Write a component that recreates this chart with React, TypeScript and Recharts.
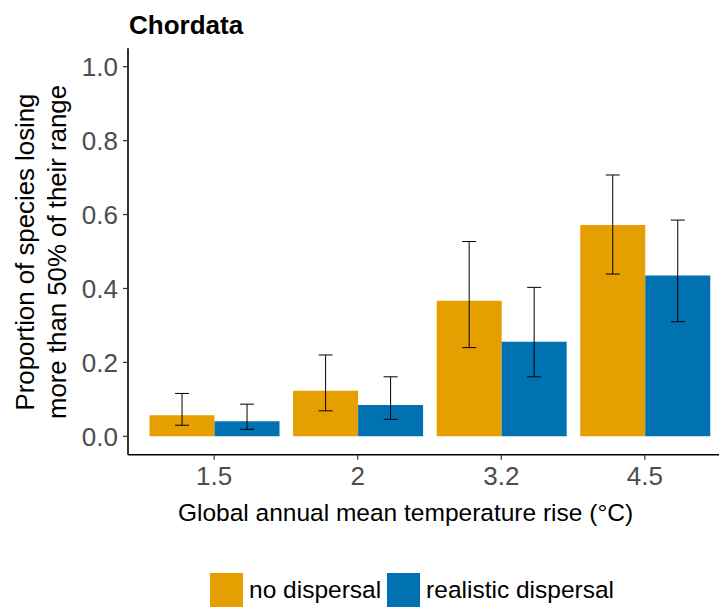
import React from 'react';
import { BarChart, Bar, XAxis, YAxis, ErrorBar, Legend } from 'recharts';

const categories = ['1.5', '2', '3.2', '4.5'];
const noDispersal = [0.057, 0.123, 0.367, 0.572];
const noLow = [0.030, 0.069, 0.240, 0.439];
const noHigh = [0.116, 0.220, 0.527, 0.707];
const realistic = [0.041, 0.085, 0.256, 0.435];
const realLow = [0.019, 0.046, 0.161, 0.310];
const realHigh = [0.087, 0.161, 0.403, 0.585];
const yTicks = [0, 0.2, 0.4, 0.6, 0.8, 1.0];

const ORANGE = '#E69F00';
const BLUE = '#0072B2';
const FONT = "'Liberation Sans', Arial, sans-serif";

const data = categories.map((c, i) => ({
  temp: c,
  no: noDispersal[i],
  noErr: [noDispersal[i] - noLow[i], noHigh[i] - noDispersal[i]],
  real: realistic[i],
  realErr: [realistic[i] - realLow[i], realHigh[i] - realistic[i]],
}));

const YTitle = () => (
  <g>
    <text
      transform="translate(43, 252) rotate(-90)"
      textAnchor="middle"
      fontFamily={FONT}
      fontSize={25.8}
      fill="#000"
    >
      <tspan x={0} dy={-8.7}>Proportion of species losing</tspan>
      <tspan x={0} dy={31.7}>more than 50% of their range</tspan>
    </text>
  </g>
);

const XTitle = () => (
  <text x={405.5} y={521} textAnchor="middle" fontFamily={FONT} fontSize={24.5} fill="#000">
    Global annual mean temperature rise (°C)
  </text>
);

const LegendContent = () => (
  <div
    style={{
      display: 'flex',
      alignItems: 'center',
      paddingLeft: 210,
      height: 34,
      fontFamily: FONT,
      fontSize: 24.5,
      color: '#000',
      whiteSpace: 'nowrap',
    }}
  >
    <span style={{ width: 33, height: 34, background: ORANGE, display: 'inline-block' }} />
    <span style={{ marginLeft: 6, marginRight: 6 }}>no dispersal</span>
    <span style={{ width: 33, height: 34, background: BLUE, display: 'inline-block' }} />
    <span style={{ marginLeft: 6 }}>realistic dispersal</span>
  </div>
);

export default function App() {
  return (
    <div style={{ position: 'absolute', left: 0, top: 0, width: 719, height: 608, overflow: 'hidden', background: '#fff' }}>
      <div
        style={{
          position: 'absolute',
          left: 129,
          top: 10,
          fontFamily: FONT,
          fontWeight: 'bold',
          fontSize: 26,
          color: '#000',
          lineHeight: '30px',
        }}
      >
        Chordata
      </div>
      <BarChart
        width={740}
        height={608}
        data={data}
        margin={{ top: 48.2, right: 9, bottom: 83.2, left: 0 }}
        barGap={0}
        barCategoryGap="5%"
      >
        <XAxis
          dataKey="temp"
          height={70}
          padding={{ left: 14.36, right: 14.36 }}
          tickSize={5}
          tickMargin={7}
          tick={{ fill: '#4D4D4D', fontSize: 26, fontFamily: FONT }}
          tickLine={{ stroke: '#333', strokeWidth: 1.2 }}
          axisLine={{ stroke: '#000', strokeWidth: 1.6 }}
          label={<XTitle />}
        />
        <YAxis
          width={128}
          type="number"
          domain={[-0.05, 1.05]}
          allowDataOverflow
          ticks={yTicks}
          tickFormatter={(v: number) => v.toFixed(1)}
          tickSize={5}
          tickMargin={5}
          tick={{ fill: '#4D4D4D', fontSize: 26, fontFamily: FONT }}
          tickLine={{ stroke: '#333', strokeWidth: 1.2 }}
          axisLine={{ stroke: '#000', strokeWidth: 1.6 }}
          label={<YTitle />}
        />
        <Legend
          layout="vertical"
          verticalAlign="middle"
          align="center"
          wrapperStyle={{ left: 0, top: 573, width: 719 }}
          content={<LegendContent />}
        />
        <Bar dataKey="no" name="no dispersal" fill={ORANGE} isAnimationActive={false}>
          <ErrorBar dataKey="noErr" width={7} stroke="#000" strokeWidth={1} direction="y" />
        </Bar>
        <Bar dataKey="real" name="realistic dispersal" fill={BLUE} isAnimationActive={false}>
          <ErrorBar dataKey="realErr" width={7} stroke="#000" strokeWidth={1} direction="y" />
        </Bar>
      </BarChart>
    </div>
  );
}
